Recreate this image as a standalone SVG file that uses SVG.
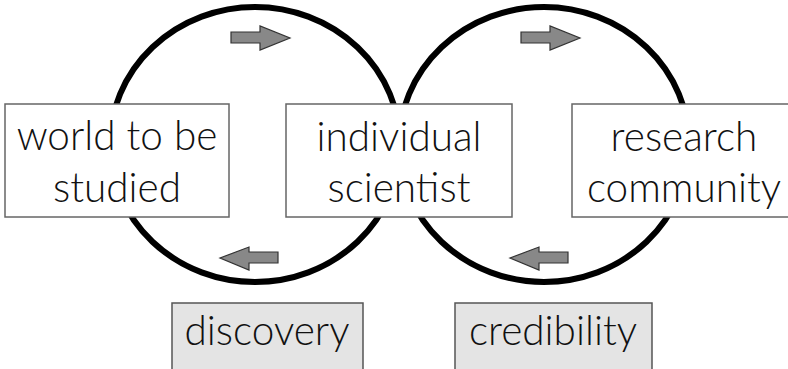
<svg xmlns="http://www.w3.org/2000/svg" width="788" height="369" viewBox="0 0 788 369">
<style>
.loop{fill:none;stroke:#000;stroke-width:6}
.box{fill:#fff;stroke:#666;stroke-width:1.5}
.lbl{fill:#e4e4e4;stroke:#555;stroke-width:1.5}
.arr{fill:#888;stroke:#333;stroke-width:1.2}
text{font-family:"Lato","Liberation Sans",sans-serif;font-weight:300;font-size:40.5px;fill:#111;text-anchor:middle}
</style>
<rect width="788" height="369" fill="#fff"/>
<g id="connectors">
<ellipse class="loop" cx="255" cy="144.5" rx="145" ry="137.5"/>
<ellipse class="loop" cx="544" cy="144.5" rx="145" ry="137.5"/>
<path class="arr" d="M231,32 H260 V26 L290,38 L260,50 V43 H231 Z"/>
<path class="arr" d="M278,252 H249 V247 L220,258 L249,270 V263 H278 Z"/>
<path class="arr" d="M521,32 H550 V26 L580,38 L550,50 V43 H521 Z"/>
<path class="arr" d="M568,252 H539 V247 L510,258 L539,270 V263 H568 Z"/>
</g>
<g id="world">
<rect class="box" x="5" y="104" width="224" height="113"/>
<text x="117" y="150">world to be</text>
<text x="117" y="202">studied</text>
</g>
<g id="scientist">
<rect class="box" x="286" y="104" width="226" height="113"/>
<text x="399" y="151">individual</text>
<text x="399" y="202">scientist</text>
</g>
<g id="community">
<rect class="box" x="572" y="104" width="224" height="113"/>
<text x="684" y="151">research</text>
<text x="684" y="202">community</text>
</g>
<g id="discovery">
<rect class="lbl" x="172" y="303" width="191" height="70"/>
<text x="267" y="345">discovery</text>
</g>
<g id="credibility">
<rect class="lbl" x="455" y="303" width="197" height="70"/>
<text x="553" y="345">credibility</text>
</g>
</svg>
